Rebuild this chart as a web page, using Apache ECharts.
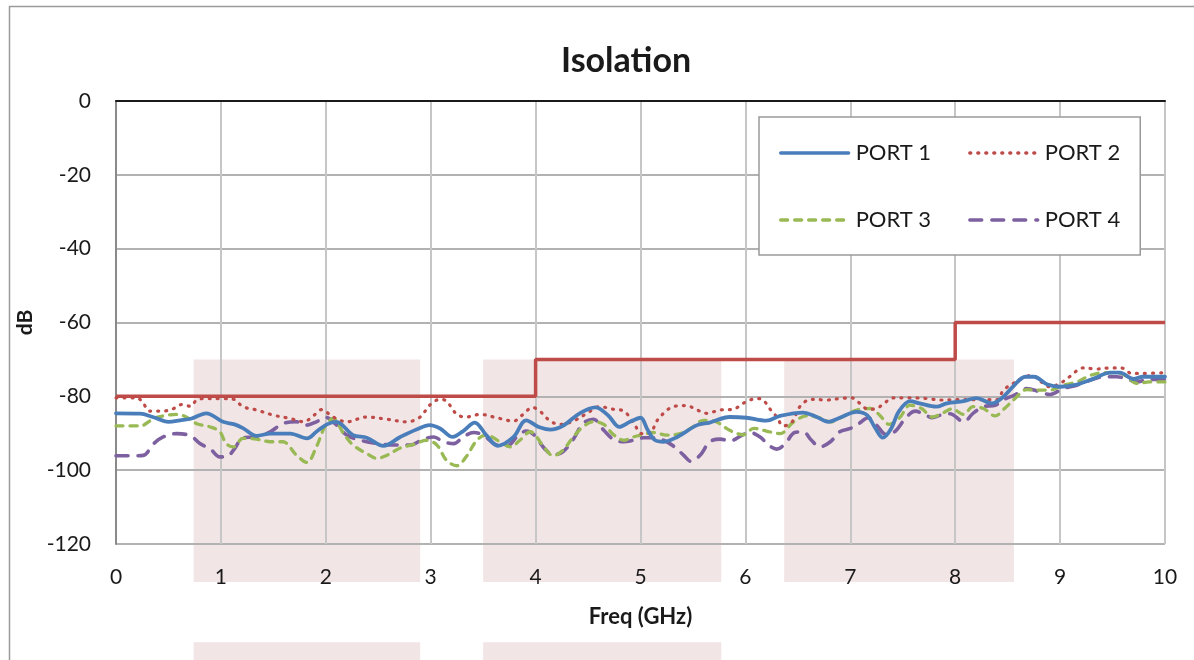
<!DOCTYPE html>
<html>
<head>
<meta charset="utf-8">
<script src="https://cdn.jsdelivr.net/npm/echarts@6/dist/echarts.min.js"></script>
<style>html,body{margin:0;padding:0;background:#fff}#c{width:1194px;height:660px}</style>
</head>
<body>
<div id="c"></div>
<script>
// ---- data ----
const title = 'Isolation';
const xName = 'Freq (GHz)';
const yName = 'dB';
const seriesNames = ['PORT 1', 'PORT 2', 'PORT 3', 'PORT 4'];

const port1F = [0,0.23,0.35,0.50,0.61,0.72,0.86,1.02,1.13,1.21,1.34,1.47,1.66,1.82,1.91,2.01,2.10,2.26,2.39,2.55,2.71,2.87,2.99,3.09,3.21,3.31,3.42,3.53,3.64,3.79,3.91,4.03,4.14,4.26,4.42,4.57,4.69,4.80,4.90,5.00,5.07,5.14,5.22,5.35,5.54,5.66,5.85,6.01,6.20,6.33,6.55,6.68,6.79,6.90,7.06,7.16,7.24,7.31,7.39,7.46,7.57,7.66,7.82,7.92,8.08,8.20,8.35,8.46,8.55,8.67,8.75,8.88,9.00,9.16,9.32,9.48,9.57,9.70,9.79,10];
const port1 = [-84.6,-84.7,-85.6,-86.9,-86.5,-86.0,-84.6,-86.9,-87.6,-88.6,-90.7,-90.1,-90.1,-91.4,-89.6,-87.6,-86.9,-90.5,-91.2,-93.4,-91.0,-88.9,-87.8,-88.7,-91.0,-89.4,-87.1,-90.5,-93.4,-91.0,-86.5,-88.3,-89.0,-88.0,-84.6,-83.0,-85.1,-88.3,-86.9,-85.8,-89.2,-91.9,-92.3,-91.0,-87.8,-87.1,-85.6,-85.8,-86.6,-85.3,-84.4,-85.6,-86.9,-85.8,-84.2,-85.1,-88.7,-91.2,-88.7,-84.2,-81.3,-81.9,-82.8,-81.9,-81.3,-80.5,-81.9,-80.1,-77.4,-74.7,-74.7,-76.8,-77.4,-76.8,-75.2,-73.6,-73.6,-75.3,-74.7,-74.7];

const port2F = [0,0.20,0.26,0.32,0.45,0.55,0.63,0.71,0.77,0.86,0.99,1.12,1.21,1.34,1.50,1.66,1.79,1.88,1.96,2.07,2.20,2.39,2.58,2.77,2.90,2.99,3.09,3.15,3.25,3.34,3.47,3.63,3.79,3.88,3.97,4.04,4.14,4.23,4.36,4.49,4.61,4.74,4.84,4.93,5.01,5.09,5.15,5.22,5.31,5.44,5.54,5.63,5.76,5.88,6.01,6.11,6.17,6.23,6.30,6.36,6.43,6.47,6.53,6.63,6.78,6.90,7.01,7.09,7.17,7.25,7.31,7.41,7.57,7.73,7.86,8.00,8.14,8.30,8.40,8.46,8.57,8.67,8.73,8.82,8.90,9.00,9.09,9.22,9.35,9.48,9.60,9.68,9.78,10];
const port2 = [-80.4,-80.4,-81.9,-84.0,-84.0,-83.3,-82.2,-82.7,-81.0,-80.6,-80.6,-80.8,-82.8,-83.7,-85.1,-86.0,-86.9,-85.3,-83.6,-85.6,-86.9,-85.6,-86.2,-86.9,-85.6,-82.4,-80.8,-81.3,-84.9,-85.6,-84.9,-85.8,-86.7,-84.9,-83.0,-84.0,-86.7,-87.6,-86.7,-84.6,-82.8,-83.5,-84.0,-86.9,-90.1,-90.1,-86.9,-84.6,-82.8,-82.5,-83.7,-84.6,-83.7,-83.5,-81.4,-80.6,-81.0,-83.3,-85.6,-88.0,-87.4,-85.6,-82.4,-80.8,-81.0,-80.6,-80.4,-81.9,-83.5,-83.3,-82.2,-80.4,-80.4,-80.6,-81.0,-80.9,-80.9,-80.9,-80.9,-78.3,-76.2,-74.7,-74.3,-76.1,-77.4,-76.5,-74.7,-72.3,-72.6,-72.3,-72.4,-73.8,-73.8,-73.6];

const port3F = [0,0.23,0.36,0.45,0.58,0.67,0.77,0.90,0.99,1.05,1.12,1.21,1.34,1.47,1.59,1.72,1.82,1.91,1.99,2.07,2.17,2.26,2.39,2.49,2.58,2.71,2.83,2.96,3.06,3.15,3.25,3.34,3.44,3.53,3.66,3.76,3.85,3.95,4.01,4.07,4.17,4.26,4.36,4.45,4.55,4.65,4.74,4.84,4.93,5.03,5.12,5.25,5.38,5.50,5.60,5.72,5.85,5.98,6.08,6.20,6.33,6.46,6.59,6.71,6.81,6.94,7.06,7.19,7.28,7.37,7.47,7.57,7.68,7.78,7.89,7.97,8.08,8.17,8.27,8.38,8.47,8.57,8.68,8.81,8.90,9.03,9.16,9.29,9.42,9.54,9.63,9.73,9.85,10];
const port3 = [-88.0,-88.0,-86.0,-85.3,-84.9,-85.6,-87.4,-88.3,-89.6,-92.8,-93.7,-91.4,-91.6,-92.3,-92.3,-95.9,-97.9,-93.7,-88.3,-86.0,-90.1,-93.2,-95.5,-96.8,-96.0,-94.0,-93.1,-91.9,-93.2,-97.3,-98.8,-96.3,-91.9,-90.5,-92.3,-93.7,-91.9,-89.6,-91.0,-93.4,-96.1,-94.6,-91.0,-88.3,-86.9,-87.6,-90.3,-91.9,-91.0,-90.3,-89.8,-90.5,-90.1,-88.3,-86.5,-86.9,-89.2,-90.4,-88.7,-89.4,-90.1,-86.9,-85.3,-85.8,-86.9,-85.3,-83.7,-83.3,-85.1,-87.6,-85.8,-82.4,-83.3,-85.6,-84.4,-83.4,-84.9,-82.8,-83.3,-85.3,-83.3,-80.6,-78.2,-78.3,-78.3,-77.0,-76.1,-74.3,-73.6,-73.6,-74.5,-76.5,-76.1,-76.1];

const port4F = [0,0.17,0.26,0.36,0.45,0.58,0.71,0.80,0.90,0.99,1.05,1.13,1.21,1.34,1.47,1.59,1.72,1.82,1.91,2.00,2.07,2.20,2.33,2.49,2.65,2.80,2.93,3.03,3.12,3.22,3.31,3.41,3.50,3.63,3.73,3.82,3.91,3.98,4.09,4.17,4.26,4.36,4.45,4.55,4.65,4.74,4.84,4.93,5.03,5.12,5.22,5.31,5.41,5.48,5.57,5.66,5.76,5.85,5.97,6.04,6.14,6.22,6.30,6.38,6.47,6.55,6.63,6.71,6.81,6.90,7.00,7.08,7.17,7.25,7.34,7.43,7.53,7.62,7.72,7.78,7.86,7.95,8.08,8.17,8.27,8.38,8.47,8.57,8.68,8.81,8.90,9.03,9.16,9.29,9.42,9.54,9.63,9.73,9.85,10];
const port4 = [-96.1,-96.1,-96.0,-92.8,-91.0,-90.1,-90.7,-92.8,-94.3,-96.4,-96.4,-94.2,-91.2,-91.0,-89.6,-87.4,-86.9,-87.8,-86.9,-85.7,-86.9,-90.5,-91.9,-92.8,-93.2,-93.2,-91.6,-91.0,-92.3,-92.8,-91.0,-89.8,-90.5,-93.2,-93.4,-91.0,-89.4,-90.3,-94.3,-95.8,-95.0,-91.6,-87.4,-86.2,-89.2,-91.6,-92.3,-91.9,-91.2,-91.2,-91.9,-93.4,-95.9,-97.6,-95.9,-92.3,-91.6,-92.1,-90.5,-89.8,-91.0,-93.2,-94.3,-92.8,-89.8,-89.6,-91.9,-93.7,-92.3,-89.6,-88.7,-87.4,-85.8,-87.8,-90.3,-89.4,-85.8,-84.0,-85.1,-85.8,-85.1,-84.7,-86.9,-84.6,-82.8,-82.4,-80.8,-79.6,-77.9,-78.8,-79.5,-77.9,-77.0,-75.6,-74.7,-74.7,-75.2,-76.1,-75.4,-75.4];

// limit mask (step)
const limitF = [0, 4, 8, 10];
const limitDB = [-80, -70, -60, -60];

// shaded bands (freq from/to, dB top/bottom)
const bandFrom = [0.74, 3.50, 6.37, 0.74, 3.50];
const bandTo = [2.90, 5.77, 8.56, 2.90, 5.77];
const bandTop = [-70, -70, -70, -146.6, -146.6];
const bandBottom = [-130.3, -130.3, -130.3, -165, -165];

const xTicks = {min: 0, max: 10, interval: 1};
const yTicks = {min: -120, max: 0, interval: 20};

// ---- build ----
const pairs = (xs, ys) => xs.map((x, i) => [x, ys[i]]);
const colors = ['#4A7EBB', '#BE4B48', '#98B954', '#7D60A0'];
const lineTypes = ['solid', [1, 7], [7, 7], [12, 10]];
const widths = [3.8, 3.2, 3.3, 3.6];
const portData = [pairs(port1F, port1), pairs(port2F, port2), pairs(port3F, port3), pairs(port4F, port4)];
const FONT = 'Lato';

const lineSeries = seriesNames.map((n, i) => ({
  name: n, type: 'line', data: portData[i], symbol: 'none', smooth: 0.35,
  z: 3 + (3 - i) * 0.01,
  lineStyle: {color: colors[i], width: widths[i], type: lineTypes[i], cap: 'round', join: 'round'},
  itemStyle: {color: colors[i]}
}));

const legendCommon = {
  orient: 'horizontal', itemGap: 37, itemWidth: 68, itemHeight: 14,
  itemStyle: {opacity: 0, borderWidth: 0},
  lineStyle: {width: 3.3, cap: 'round'},
  textStyle: {fontSize: 22, color: '#1a1a1a', fontFamily: FONT, padding: [0, 0, 0, 2]}
};

const chart = echarts.init(document.getElementById('c'), null, {renderer: 'canvas'});
chart.setOption({
  animation: false,
  backgroundColor: '#fff',
  textStyle: {fontFamily: FONT},
  title: {
    text: title, left: 556, top: 39,
    textStyle: {fontSize: 34, fontWeight: 'bold', color: '#1a1a1a', fontFamily: FONT}
  },
  graphic: [{
    type: 'rect', left: 7, top: 4, z: -10, silent: true,
    shape: {width: 1260, height: 720},
    style: {fill: 'none', stroke: '#9a9a9a', lineWidth: 1.5}
  }],
  grid: {left: 116, right: 29, top: 101, bottom: 116, containLabel: false},
  legend: [Object.assign({}, legendCommon, {
    data: ['PORT 1', 'PORT 2'], left: 759, top: 117,
    padding: [25, 20, 91, 20],
    backgroundColor: '#fff', borderColor: '#9a9a9a', borderWidth: 1.5, borderRadius: 0,
    z: 4
  }), Object.assign({}, legendCommon, {
    data: ['PORT 3', 'PORT 4'], left: 779, top: 209,
    padding: 0, z: 5
  })],
  xAxis: [{
    type: 'value', min: xTicks.min, max: xTicks.max, interval: xTicks.interval,
    position: 'bottom',
    name: xName, nameLocation: 'middle', nameGap: 62,
    nameTextStyle: {fontSize: 22, fontWeight: 'bold', color: '#1a1a1a', fontFamily: FONT},
    axisLine: {show: false, onZero: false},
    axisTick: {show: false},
    axisLabel: {fontSize: 21, color: '#1a1a1a', margin: 23, fontFamily: FONT},
    splitLine: {show: true, lineStyle: {color: '#C6C6C6', width: 2}}
  }, {
    type: 'value', min: xTicks.min, max: xTicks.max, interval: xTicks.interval,
    position: 'top',
    axisLine: {show: true, onZero: false, lineStyle: {color: '#1a1a1a', width: 2}},
    axisTick: {show: false}, axisLabel: {show: false}, splitLine: {show: false}
  }],
  yAxis: {
    type: 'value', min: yTicks.min, max: yTicks.max, interval: yTicks.interval,
    name: yName, nameLocation: 'middle', nameGap: 76, nameRotate: 90,
    nameTextStyle: {fontSize: 21, fontWeight: 'bold', color: '#1a1a1a', fontFamily: FONT},
    axisLine: {show: true, onZero: false, lineStyle: {color: '#8a8a8a', width: 2}},
    axisTick: {show: false},
    axisLabel: {fontSize: 21, color: '#1a1a1a', margin: 25, fontFamily: FONT},
    splitLine: {show: true, lineStyle: {color: '#B2B2B2', width: 2}}
  },
  series: [{
    type: 'custom', name: 'bands', silent: true, clip: false, z: -1,
    data: bandFrom.map((f, i) => [f, bandTo[i], bandTop[i], bandBottom[i]]),
    encode: {x: [0, 1], y: [2, 3]},
    renderItem: (params, api) => {
      const p0 = api.coord([api.value(0), api.value(2)]);
      const p1 = api.coord([api.value(1), api.value(3)]);
      return {type: 'rect', shape: {x: p0[0], y: p0[1], width: p1[0] - p0[0], height: p1[1] - p0[1]},
        style: {fill: 'rgb(242,229,230)'}};
    }
  }, {
    type: 'line', name: 'limit', data: pairs(limitF, limitDB), step: 'end', symbol: 'none',
    z: 2.5, lineStyle: {color: '#BE4B48', width: 3.5}, itemStyle: {color: '#BE4B48'}
  }].concat(lineSeries)
});
</script>
</body>
</html>
